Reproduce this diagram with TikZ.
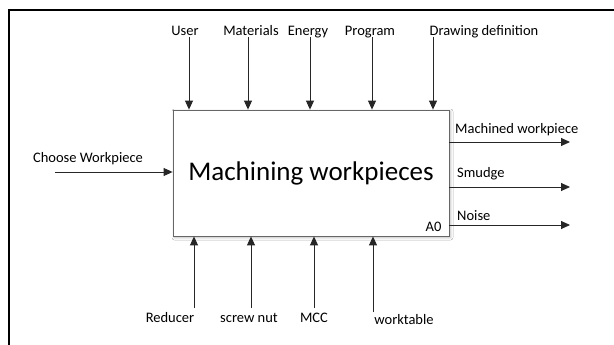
\documentclass[tikz,border=0pt]{standalone}
\usepackage{fontspec}
\setmainfont{Carlito}
\usetikzlibrary{arrows.meta,shadows.blur}
\begin{document}
\begin{tikzpicture}[x=1pt,y=-1pt,
  lbl/.style={inner sep=0pt, font=\fontsize{14.5}{17}\selectfont},
  flow/.style={draw=black!85, line width=0.9pt, -{Triangle[length=9pt,width=8pt]}},
  funcbox/.style={draw=black!60, line width=0.8pt, fill=white, inner sep=0pt,
    minimum width=276pt, minimum height=126pt,
    blur shadow={shadow xshift=1.5pt, shadow yshift=-1.5pt, shadow blur radius=2.5pt, shadow opacity=30},
    font=\fontsize{27}{32}\selectfont}]
\useasboundingbox (0,0) rectangle (614,345);
\fill[white] (0,0) rectangle (614,345);
% page frame
\draw[line width=2pt] (9,345) -- (9,10) -- (614,10);

% function box
\node[funcbox] (box) at (311,173) {Machining workpieces};
\node[lbl, anchor=base] (a0) at (433.5,231) {A0};

% controls (top)
\node[lbl, anchor=base] (lUser) at (185,36) {User};
\node[lbl, anchor=base] (lMat) at (251,36) {Materials};
\node[lbl, anchor=base] (lEn) at (308,36) {Energy};
\node[lbl, anchor=base] (lProg) at (370,36) {Program};
\node[lbl, anchor=base] (lDraw) at (484,36) {Drawing definition};
\coordinate (tUser) at (189,37);
\coordinate (tMat) at (248,37);
\coordinate (tEn) at (310,37);
\coordinate (tProg) at (372,37);
\coordinate (tDraw) at (433,37);
\foreach \c in {tUser,tMat,tEn,tProg,tDraw}
  \draw[flow] (\c) -- (\c |- box.north);

% input (left)
\node[lbl, anchor=base] (lChoose) at (88,163) {Choose Workpiece};
\coordinate (iChoose) at (55,172);
\draw[flow] (iChoose) -- (iChoose -| box.west);

% outputs (right)
\node[lbl, anchor=base west] (lMach) at (455,133) {Machined workpiece};
\node[lbl, anchor=base west] (lSmudge) at (457,178) {Smudge};
\node[lbl, anchor=base west] (lNoise) at (457,220) {Noise};
\coordinate (oMach) at (570,142);
\coordinate (oSmudge) at (570,187);
\coordinate (oNoise) at (570,225);
\foreach \c in {oMach,oSmudge,oNoise}
  \draw[flow] (\c -| box.east) -- (\c);

% mechanisms (bottom)
\node[lbl, anchor=base] (lRed) at (170,322) {Reducer};
\node[lbl, anchor=base] (lNut) at (249,322) {screw nut};
\node[lbl, anchor=base] (lMCC) at (314,322) {MCC};
\node[lbl, anchor=base] (lTable) at (404,324) {worktable};
\coordinate (mRed) at (194,308);
\coordinate (mNut) at (251,308);
\coordinate (mMCC) at (314,308);
\coordinate (mTable) at (373,312);
\foreach \c in {mRed,mNut,mMCC,mTable}
  \draw[flow] (\c) -- (\c |- box.south);
\end{tikzpicture}
\end{document}
